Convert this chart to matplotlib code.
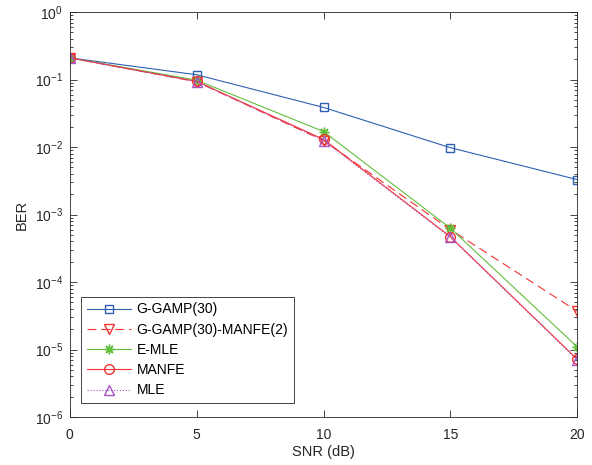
import matplotlib.pyplot as plt
import numpy as np
from matplotlib.ticker import LogLocator, NullFormatter, NullLocator

plt.rcParams['font.family'] = ['Liberation Sans', 'DejaVu Sans']
plt.rcParams['mathtext.fontset'] = 'custom'
plt.rcParams['mathtext.rm'] = 'Liberation Sans'

# SNR points and BER curves
snr = [0, 5, 10, 15, 20]
ber_ggamp = [0.21, 0.118, 0.0387, 0.0098, 0.0033]
ber_ggamp_manfe = [0.21, 0.093, 0.0125, 6.0e-4, 3.7e-5]
ber_emle = [0.21, 0.098, 0.0170, 6.3e-4, 1.1e-5]
ber_manfe = [0.21, 0.094, 0.0130, 4.7e-4, 7.2e-6]
ber_mle = [0.21, 0.093, 0.0125, 4.6e-4, 7.0e-6]

fig = plt.figure(figsize=(5.92, 4.65), dpi=100)
ax = fig.add_axes([0.118, 0.103, 0.857, 0.871])

lw = 0.8
ax.semilogy(snr, ber_ggamp, '-s', color='#2f5fb3', lw=lw, ms=6, mfc='none', mew=1.0,
            label='G-GAMP(30)')
ax.semilogy(snr, ber_ggamp_manfe, '--v', color='#f53232', lw=lw, ms=7.5, mfc='none', mew=1.0,
            dashes=(8, 4.5), label='G-GAMP(30)-MANFE(2)')
ax.semilogy(snr, ber_emle, '-', marker=(8, 2, 0), color='#62bf3c', lw=lw, ms=7, mew=1.0,
            label='E-MLE')
ax.semilogy(snr, ber_manfe, '-o', color='#f53232', lw=lw, ms=7, mfc='none', mew=1.0,
            label='MANFE')
ax.semilogy(snr, ber_mle, ':^', color='#a654c2', lw=lw, ms=7.5, mfc='none', mew=1.0,
            label='MLE')

ax.set_xlim(0, 20)
ax.set_ylim(1e-6, 1)
ax.set_xticks([0, 5, 10, 15, 20])
ax.set_yticks([1e-6, 1e-5, 1e-4, 1e-3, 1e-2, 1e-1, 1])
ax.xaxis.set_minor_locator(NullLocator())
ax.yaxis.set_minor_locator(LogLocator(base=10, subs=np.arange(2, 10), numticks=20))
ax.yaxis.set_minor_formatter(NullFormatter())
ax.set_ylim(1e-6, 1)

ax.tick_params(which='both', direction='in', top=True, right=True, colors='#262626',
               labelsize=10, width=0.6)
ax.tick_params(which='major', length=5)
ax.tick_params(which='minor', length=2.5)
ax.tick_params(axis='x', pad=8)
ax.tick_params(axis='y', pad=5)
for s in ax.spines.values():
    s.set_color('#262626')
    s.set_linewidth(0.6)

ax.set_xlabel('SNR (dB)', fontsize=10.5, color='#262626', labelpad=2)
ax.set_ylabel('BER', fontsize=10.5, color='#262626', labelpad=4)

leg = ax.legend(loc='lower left', bbox_to_anchor=(0.022, 0.035), borderaxespad=0,
                fontsize=10, handlelength=3.2, handletextpad=0.4, fancybox=False,
                framealpha=1, edgecolor='#262626', labelspacing=0.45, borderpad=0.4)
leg.get_frame().set_linewidth(0.6)

plt.savefig('out.png', dpi=100)
